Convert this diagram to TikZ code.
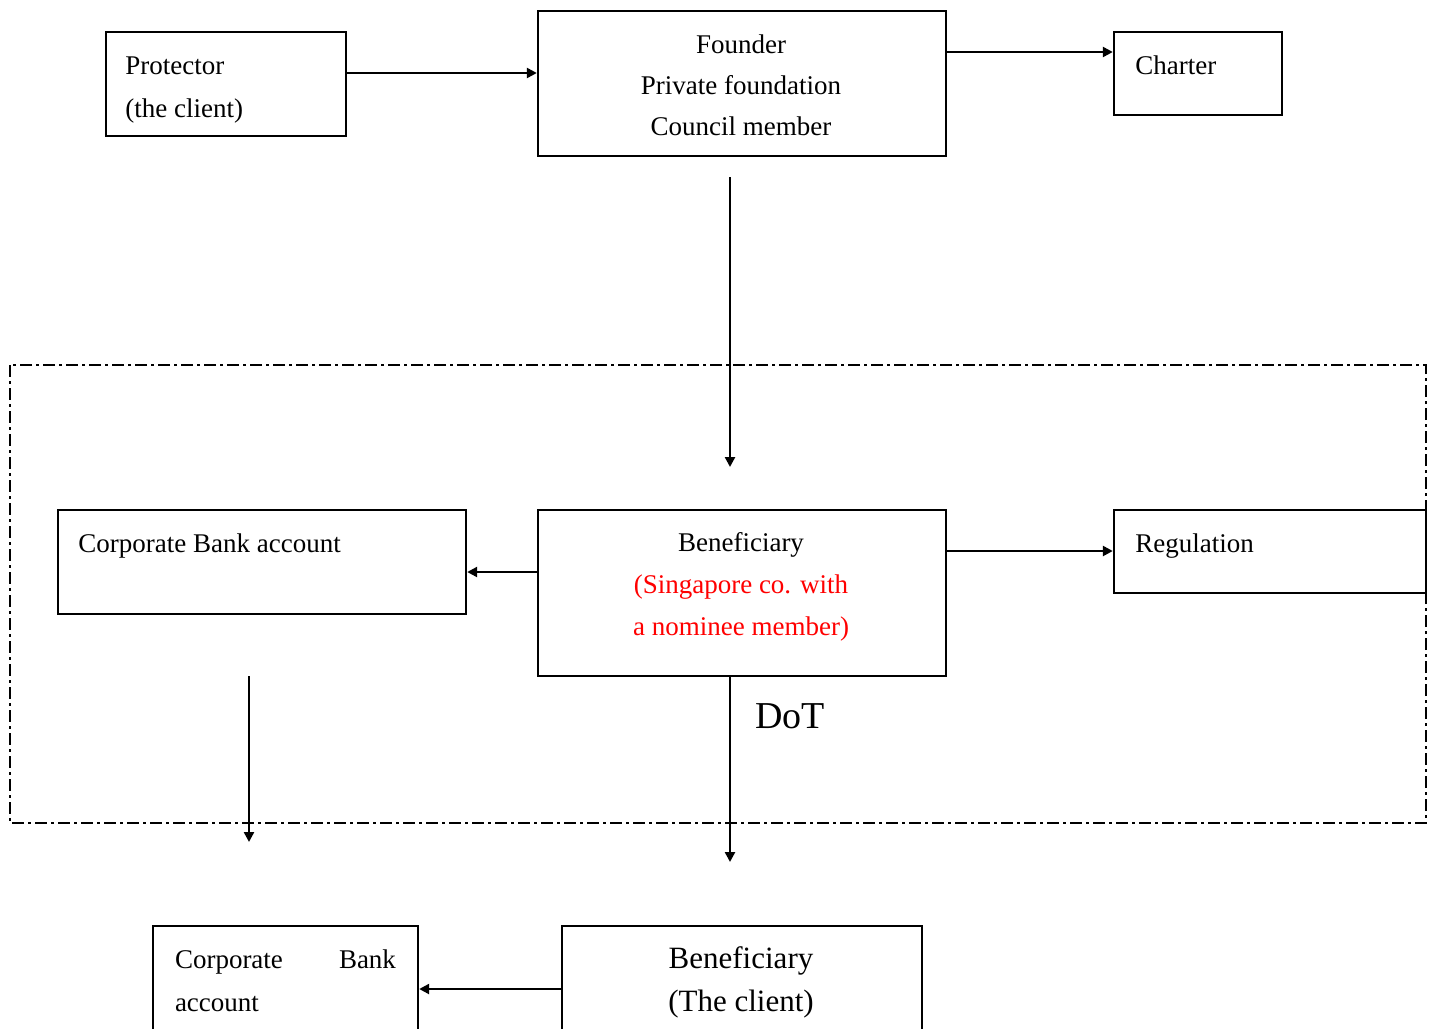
\documentclass[tikz,border=0pt]{standalone}
\usepackage{fontspec}
\setmainfont{Liberation Serif}
\usetikzlibrary{arrows.meta}

\tikzset{
  box/.style={draw, line width=1.2pt, inner sep=0pt},
  txt/.style={inner sep=0pt, font=\fontsize{13.5}{21.5}\selectfont},
  conn/.style={line width=1.2pt, -{Triangle[length=5pt,width=5pt]}},
  frame/.style={line width=1.1pt, dash pattern=on 6pt off 2pt on 1.5pt off 2pt},
}

\begin{document}
\begin{tikzpicture}[x=0.5pt,y=-0.5pt]
  \clip (0,0) rectangle (1434,1028);
  % top row
  \node[box, minimum width=120pt, minimum height=52pt] (protector) at (226,84) {};
  \node[txt, anchor=west, align=left] (protectortxt) at (125,90.5) {Protector\\(the client)};
  \node[box, minimum width=204pt, minimum height=72.5pt] (founder) at (742,83.5) {};
  \node[txt, align=center, font=\fontsize{13.5}{20.5}\selectfont] (foundertxt) at (741,85) {Founder\\Private foundation\\Council member};
  \node[box, minimum width=84pt, minimum height=41.5pt] (charter) at (1198,73.5) {};
  \node[txt, anchor=west] (chartertxt) at (1135,65) {Charter};
  \draw[conn] ([yshift=5.5pt]protector.east) -- ([yshift=5.5pt]protector.east -| founder.west);
  \draw[conn] ([yshift=15.75pt]founder.east) -- ([yshift=15.75pt]founder.east -| charter.west);
  \coordinate (fdtop) at (730,177);
  \coordinate (fdend) at (730,467);
  \draw[conn] (fdtop) -- (fdend);
  % singapore part
  \draw[frame] (10,365) rectangle (1426,823);
  \node[box, minimum width=204pt, minimum height=52pt] (bank) at (262,562) {};
  \node[txt, anchor=west] (banktxt) at (78,546) {Corporate Bank account};
  \node[box, minimum width=204pt, minimum height=83pt] (benef) at (742,593) {};
  \node[txt, align=center, font=\fontsize{13.5}{21}\selectfont] (beneftxt) at (741,587) {Beneficiary\\\textcolor{red}{(Singapore co. with}\\\textcolor{red}{a nominee member)}};
  \node[box, minimum width=156pt, minimum height=41.5pt] (regul) at (1270,551.5) {};
  \node[txt, anchor=west] (regultxt) at (1135,546) {Regulation};
  \draw[conn] ([yshift=10.5pt]benef.west) -- ([yshift=10.5pt]benef.west -| bank.east);
  \draw[conn] ([yshift=21pt]benef.east) -- ([yshift=21pt]benef.east -| regul.west);
  \coordinate (banktop) at (249,676);
  \coordinate (bankend) at (249,842);
  \draw[conn] (banktop) -- (bankend);
  \coordinate (dotend) at (730,862);
  \draw[conn] ([xshift=-6pt]benef.south) -- (dotend);
  \node[inner sep=0pt, font=\fontsize{19}{22}\selectfont] (dot) at (790,716) {DoT};
  % bottom row
  \node[box, minimum width=132.5pt, minimum height=75pt] (bank2) at (285.5,1001) {};
  \node[txt, text width=110.5pt, align=left] (bank2txt) at (285.5,980.5) {Corporate\hfill Bank\\account};
  \node[box, minimum width=180pt, minimum height=75pt] (client) at (742,1001) {};
  \node[txt, align=center, font=\fontsize{15.5}{21.5}\selectfont] (clienttxt) at (741,982.5) {Beneficiary\\(The client)};
  \draw[conn] ([yshift=6pt]client.west) -- ([yshift=6pt]client.west -| bank2.east);
\end{tikzpicture}
\end{document}
